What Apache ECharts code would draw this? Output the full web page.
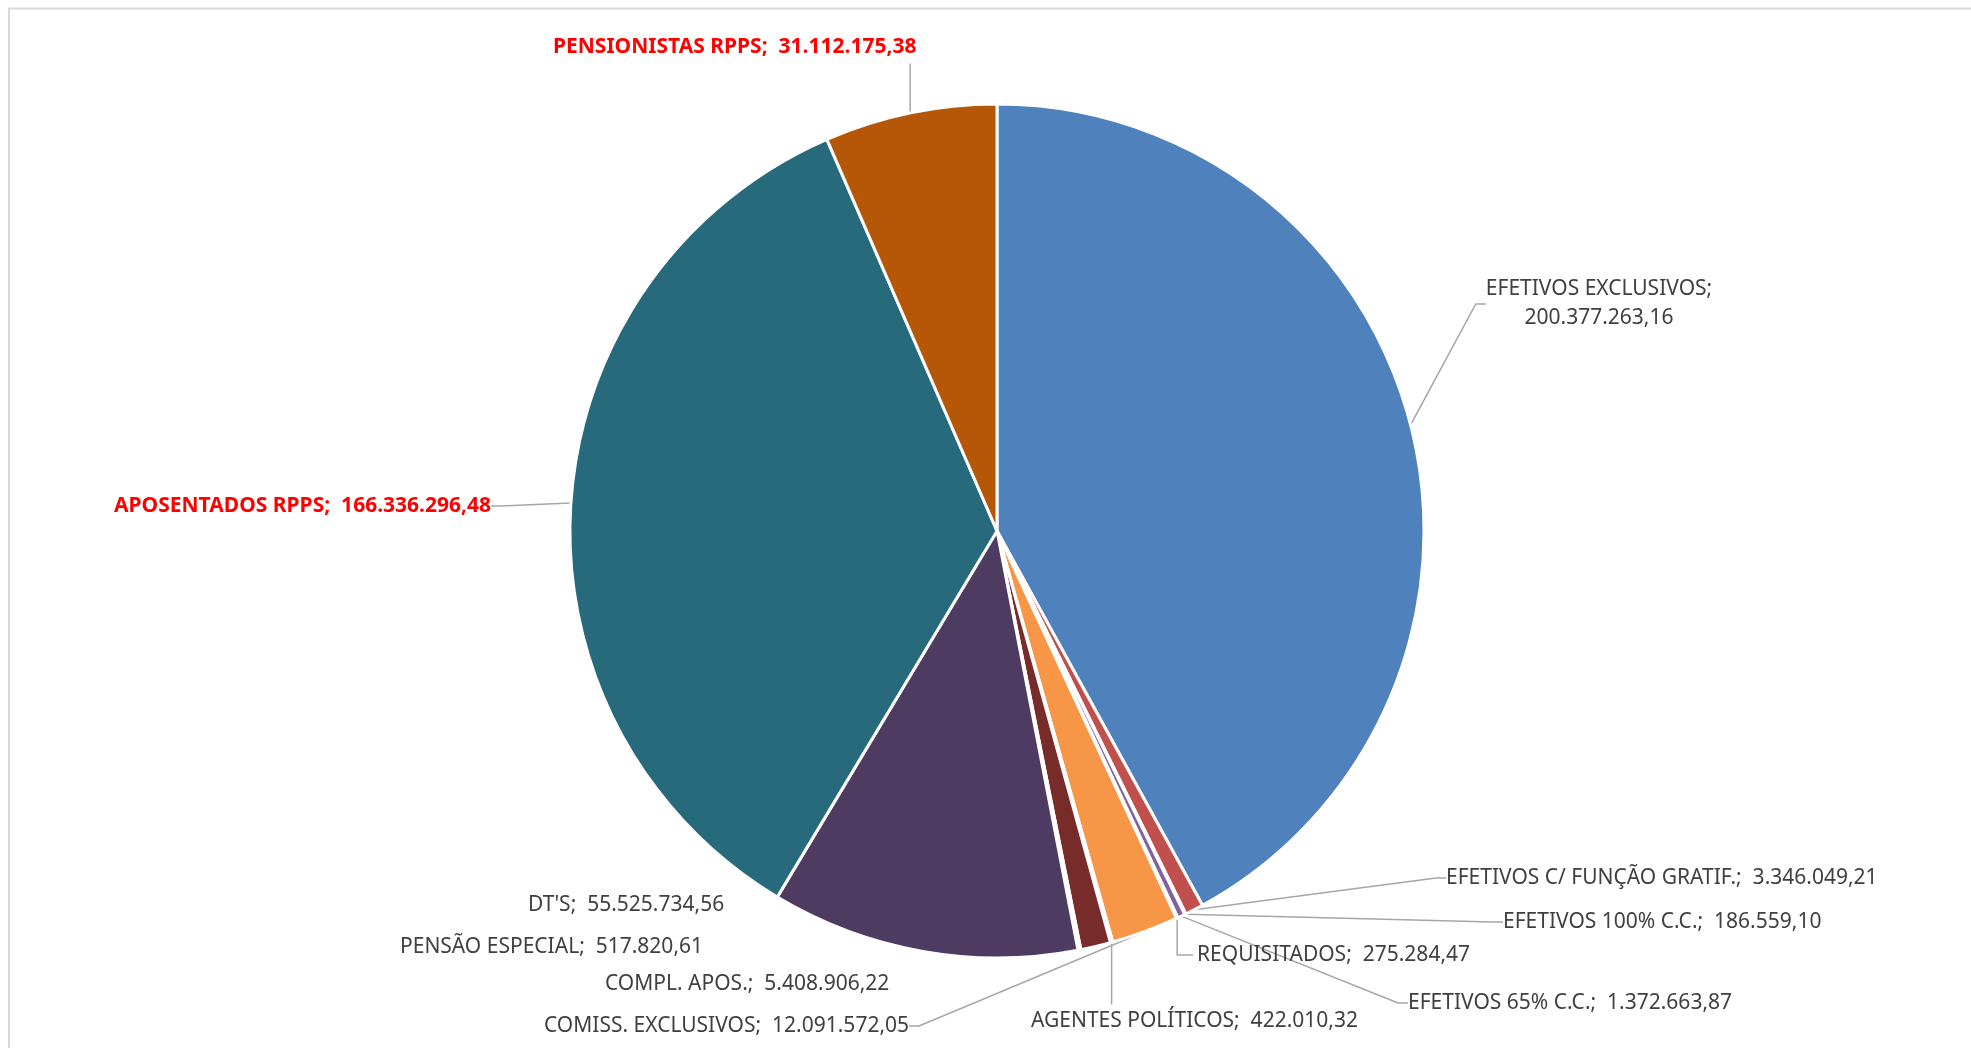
<!DOCTYPE html>
<html>
<head>
<meta charset="utf-8">
<script src="https://cdn.jsdelivr.net/npm/echarts@6/dist/echarts.min.js"></script>
<style>
  html, body { margin: 0; padding: 0; background: #fff; }
  #chart { width: 1971px; height: 1048px; }
</style>
</head>
<body>
<div id="chart"></div>
<script>
const categories = [
    'EFETIVOS EXCLUSIVOS',
    'EFETIVOS C/ FUNÇÃO GRATIF.',
    'EFETIVOS 100% C.C.',
    'EFETIVOS 65% C.C.',
    'REQUISITADOS',
    'COMISS. EXCLUSIVOS',
    'AGENTES POLÍTICOS',
    'COMPL. APOS.',
    'PENSÃO ESPECIAL',
    "DT'S",
    'APOSENTADOS RPPS',
    'PENSIONISTAS RPPS'
];
const values = [
    200377263.16,
    3346049.21,
    186559.10,
    1372663.87,
    275284.47,
    12091572.05,
    422010.32,
    5408906.22,
    517820.61,
    55525734.56,
    166336296.48,
    31112175.38
];
const colors = [
    '#4F81BD', '#C0504D', '#9BBB59', '#8064A2', '#4BACC6', '#F79646',
    '#2C4D75', '#772C2A', '#5F7530', '#4D3B62', '#276A7C', '#B65708'
];
const highlighted = ['APOSENTADOS RPPS', 'PENSIONISTAS RPPS'];
const noLeader = ['COMPL. APOS.', 'PENSÃO ESPECIAL', "DT'S"];

// label spots were dragged by hand in the original, so keep them here
// [x, middle y, align, leader style]
const labelPos = {
    'EFETIVOS EXCLUSIVOS': [1599, 304, 'center'],
    'EFETIVOS C/ FUNÇÃO GRATIF.': [1446, 878],
    'EFETIVOS 100% C.C.': [1503, 922],
    'EFETIVOS 65% C.C.': [1408, 1003],
    'REQUISITADOS': [1197, 955, 'left', 'elbow'],
    'AGENTES POLÍTICOS': [1031, 1021, 'left', 'up'],
    'COMISS. EXCLUSIVOS': [544, 1026],
    'COMPL. APOS.': [605, 984],
    'PENSÃO ESPECIAL': [400, 947],
    "DT'S": [528, 905],
    'APOSENTADOS RPPS': [114, 506],
    'PENSIONISTAS RPPS': [553, 47, 'left', 'down']
};

const fmt = (v) => {
    const parts = v.toFixed(2).split('.');
    return parts[0].replace(/\B(?=(\d{3})+(?!\d))/g, '.') + ',' + parts[1];
};

const chart = echarts.init(document.getElementById('chart'), null, { renderer: 'canvas' });

chart.setOption({
    backgroundColor: '#ffffff',
    animation: false,
    graphic: [
        {
            type: 'rect',
            shape: { x: 9, y: 8.5, width: 2100, height: 1200 },
            style: { fill: 'none', stroke: '#d9d9d9', lineWidth: 2 },
            silent: true
        }
    ],
    series: [
        {
            type: 'pie',
            center: [997, 531],
            radius: 427,
            startAngle: 90,
            clockwise: true,
            avoidLabelOverlap: false,
            itemStyle: { borderColor: '#ffffff', borderWidth: 3 },
            label: {
                show: true,
                position: 'outside',
                fontFamily: "'Noto Sans', sans-serif",
                fontSize: 21,
                color: '#404040',
                lineHeight: 29,
                formatter: (p) => p.name === 'EFETIVOS EXCLUSIVOS'
                    ? p.name + ';\n' + fmt(p.value)
                    : p.name + ';  ' + fmt(p.value)
            },
            labelLine: {
                show: true,
                length: 20,
                length2: 10,
                lineStyle: { color: '#a6a6a6', width: 1.5 }
            },
            labelLayout: (params) => {
                const pos = labelPos[categories[params.dataIndex]];
                const out = {
                    x: pos[0],
                    y: pos[1],
                    align: pos[2] || 'left',
                    verticalAlign: 'middle'
                };
                const start = params.labelLinePoints && params.labelLinePoints[0];
                const h = params.labelRect.height;
                const w = params.labelRect.width;
                if (start && pos[3] === 'up') {
                    const top = pos[1] - h / 2 - 2;
                    out.labelLinePoints = [start, [start[0], top], [start[0], top]];
                } else if (start && pos[3] === 'down') {
                    const bottom = pos[1] + h / 2 + 2;
                    const sx = Math.min(start[0], pos[0] + w);
                    out.labelLinePoints = [start, [sx, bottom], [sx, bottom]];
                } else if (start && pos[3] === 'elbow') {
                    out.labelLinePoints = [start, [start[0], pos[1]], [pos[0] - 4, pos[1]]];
                }
                return out;
            },
            data: categories.map((name, i) => {
                const item = {
                    name: name,
                    value: values[i],
                    itemStyle: { color: colors[i] }
                };
                if (highlighted.includes(name)) {
                    item.label = { color: '#ff0000', fontWeight: 'bold' };
                }
                if (noLeader.includes(name)) {
                    item.labelLine = { show: false };
                }
                return item;
            })
        }
    ]
});
</script>
</body>
</html>
